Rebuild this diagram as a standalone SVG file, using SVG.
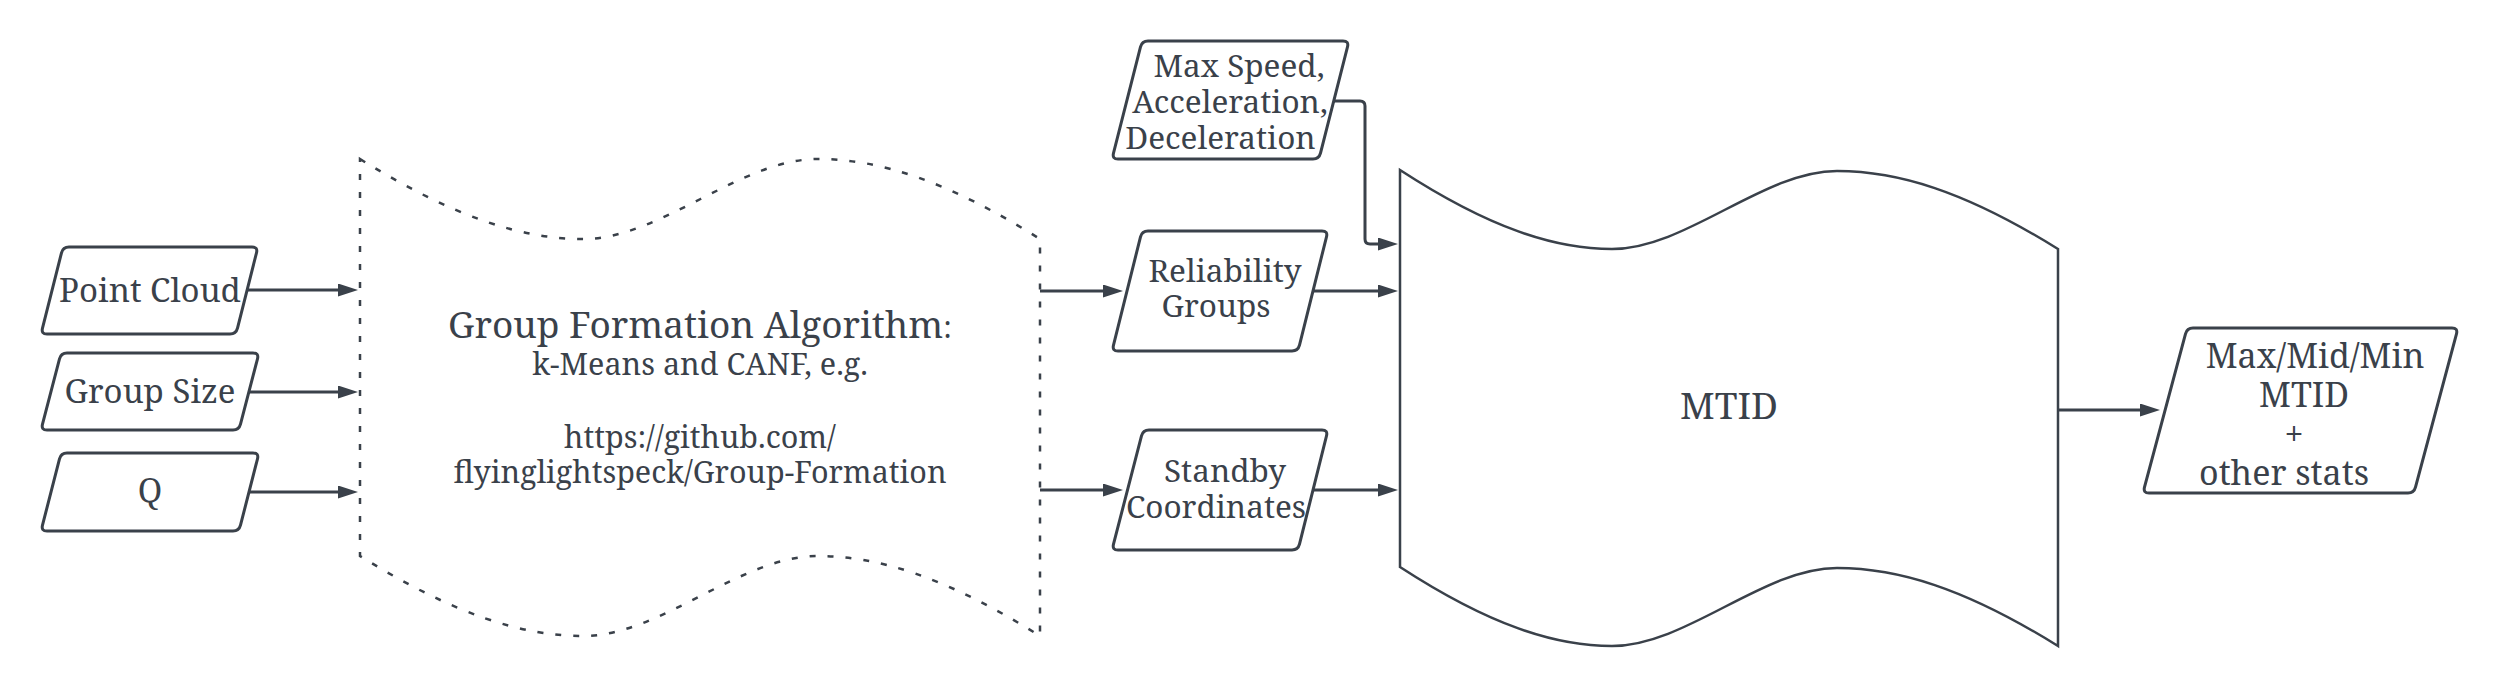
<svg xmlns="http://www.w3.org/2000/svg" width="2500" height="686" viewBox="0 0 2500 686">
<style>
  .box { fill: #ffffff; stroke: #3a414a; stroke-width: 3; stroke-linejoin: round; }
  .big { fill: #ffffff; stroke: #3a414a; stroke-width: 2.5; stroke-linejoin: miter; }
  .dash { fill: #ffffff; stroke: #3a414a; stroke-width: 2.5; stroke-dasharray: 6 12; }
  .conn { fill: none; stroke: #3a414a; stroke-width: 3; marker-end: url(#arrow); }
  text { font-family: "Noto Serif", "DejaVu Serif", serif; fill: #3a414a; text-anchor: middle; }
  .tl { font-size: 33px; }
  .tm { font-size: 31.5px; }
  .tr { font-size: 34px; }
  .tg { font-size: 30.5px; }
</style>
<defs>
  <marker id="arrow" markerUnits="userSpaceOnUse" markerWidth="22" markerHeight="14" refX="12" refY="6.5" orient="auto">
    <path d="M0,0 L20,6.5 L0,13 Z" fill="#3a414a"/>
  </marker>
</defs>
<rect width="2500" height="686" fill="#ffffff"/>

<g id="connectors">
  <path class="conn" d="M248,290 H350"/>
  <path class="conn" d="M249,392 H350"/>
  <path class="conn" d="M249,492 H350"/>
  <path class="conn" d="M1040,291 H1115"/>
  <path class="conn" d="M1040,490 H1115"/>
  <path class="conn" d="M1313,291 H1390"/>
  <path class="conn" d="M1313,490 H1390"/>
  <path class="conn" d="M1334,101 H1360 Q1365,101 1365,106 V239 Q1365,244 1370,244 H1390"/>
  <path class="conn" d="M2058,410 H2152"/>
</g>

<g id="point-cloud">
  <path class="box" d="M69,247 H252 Q258,247 256.5,252.8 L237.5,328.2 Q236,334 230,334 H47 Q41,334 42.5,328.2 L61.5,252.8 Q63,247 69,247 Z"/>
  <text class="tl" x="150" y="302">Point Cloud</text>
</g>

<g id="group-size">
  <path class="box" d="M67,353 H253 Q259,353 257.5,358.8 L240.5,424.2 Q239,430 233,430 H47 Q41,430 42.5,424.2 L59.5,358.8 Q61,353 67,353 Z"/>
  <text class="tl" x="150" y="403">Group Size</text>
</g>

<g id="q">
  <path class="box" d="M67,453 H253 Q259,453 257.5,458.8 L240.5,525.2 Q239,531 233,531 H47 Q41,531 42.5,525.2 L59.5,458.8 Q61,453 67,453 Z"/>
  <text class="tl" x="150" y="502">Q</text>
</g>

<g id="group-formation">
  <path class="dash" d="M360,159 C455,218 523,239 583,239 C661,239 740,159 818,159 C878,159 946,180 1040,239 L1040,636 C946,577 878,556 818,556 C740,556 661,636 583,636 C523,636 455,615 360,556 Z"/>
  <text x="700" y="338" style="font-size:37px">Group Formation Algorithm<tspan style="font-size:30px">:</tspan></text>
  <text class="tg" x="700" y="375">k-Means and CANF, e.g.</text>
  <text class="tg" x="700" y="448">https://github.com/</text>
  <text class="tg" x="700" y="483">flyinglightspeck/Group-Formation</text>
</g>

<g id="max-speed">
  <path class="box" d="M1148,41 H1343 Q1349,41 1347.5,46.8 L1320.5,153.2 Q1319,159 1313,159 H1118 Q1112,159 1113.5,153.2 L1140.5,46.8 Q1142,41 1148,41 Z"/>
  <text class="tm" x="1239" y="77">Max Speed,</text>
  <text class="tm" x="1230" y="113">Acceleration,</text>
  <text class="tm" x="1220.5" y="149">Deceleration</text>
</g>

<g id="reliability-groups">
  <path class="box" d="M1148,231 H1322 Q1328,231 1326.5,236.8 L1299.5,345.2 Q1298,351 1292,351 H1118 Q1112,351 1113.5,345.2 L1140.5,236.8 Q1142,231 1148,231 Z"/>
  <text class="tm" x="1225" y="282">Reliability</text>
  <text class="tm" x="1216" y="317">Groups</text>
</g>

<g id="standby-coordinates">
  <path class="box" d="M1149,430 H1322 Q1328,430 1326.5,435.8 L1299.5,544.2 Q1298,550 1292,550 H1118 Q1112,550 1113.5,544.2 L1141.5,435.8 Q1143,430 1149,430 Z"/>
  <text class="tm" x="1225" y="481.5">Standby</text>
  <text class="tm" x="1216" y="517.5">Coordinates</text>
</g>

<g id="mtid">
  <path class="big" d="M1400,170 C1490,228.5 1555,249 1612,249 C1686,249 1763,171 1837,171 C1897,171 1964,190.5 2058,249 L2058,646 C1964,587.5 1897,568 1837,568 C1763,568 1686,646 1612,646 C1555,646 1490,625.5 1400,567 Z"/>
  <text x="1729" y="419" style="font-size:37px">MTID</text>
</g>

<g id="results">
  <path class="box" d="M2193,328 H2452 Q2458,328 2456.5,333.8 L2415.5,487.2 Q2414,493 2408,493 H2149 Q2143,493 2144.5,487.2 L2185.5,333.8 Q2187,328 2193,328 Z"/>
  <text class="tr" x="2315" y="368">Max/Mid/Min</text>
  <text class="tr" x="2304" y="407">MTID</text>
  <text class="tr" x="2294" y="446">+</text>
  <text class="tr" x="2284" y="485">other stats</text>
</g>
</svg>
